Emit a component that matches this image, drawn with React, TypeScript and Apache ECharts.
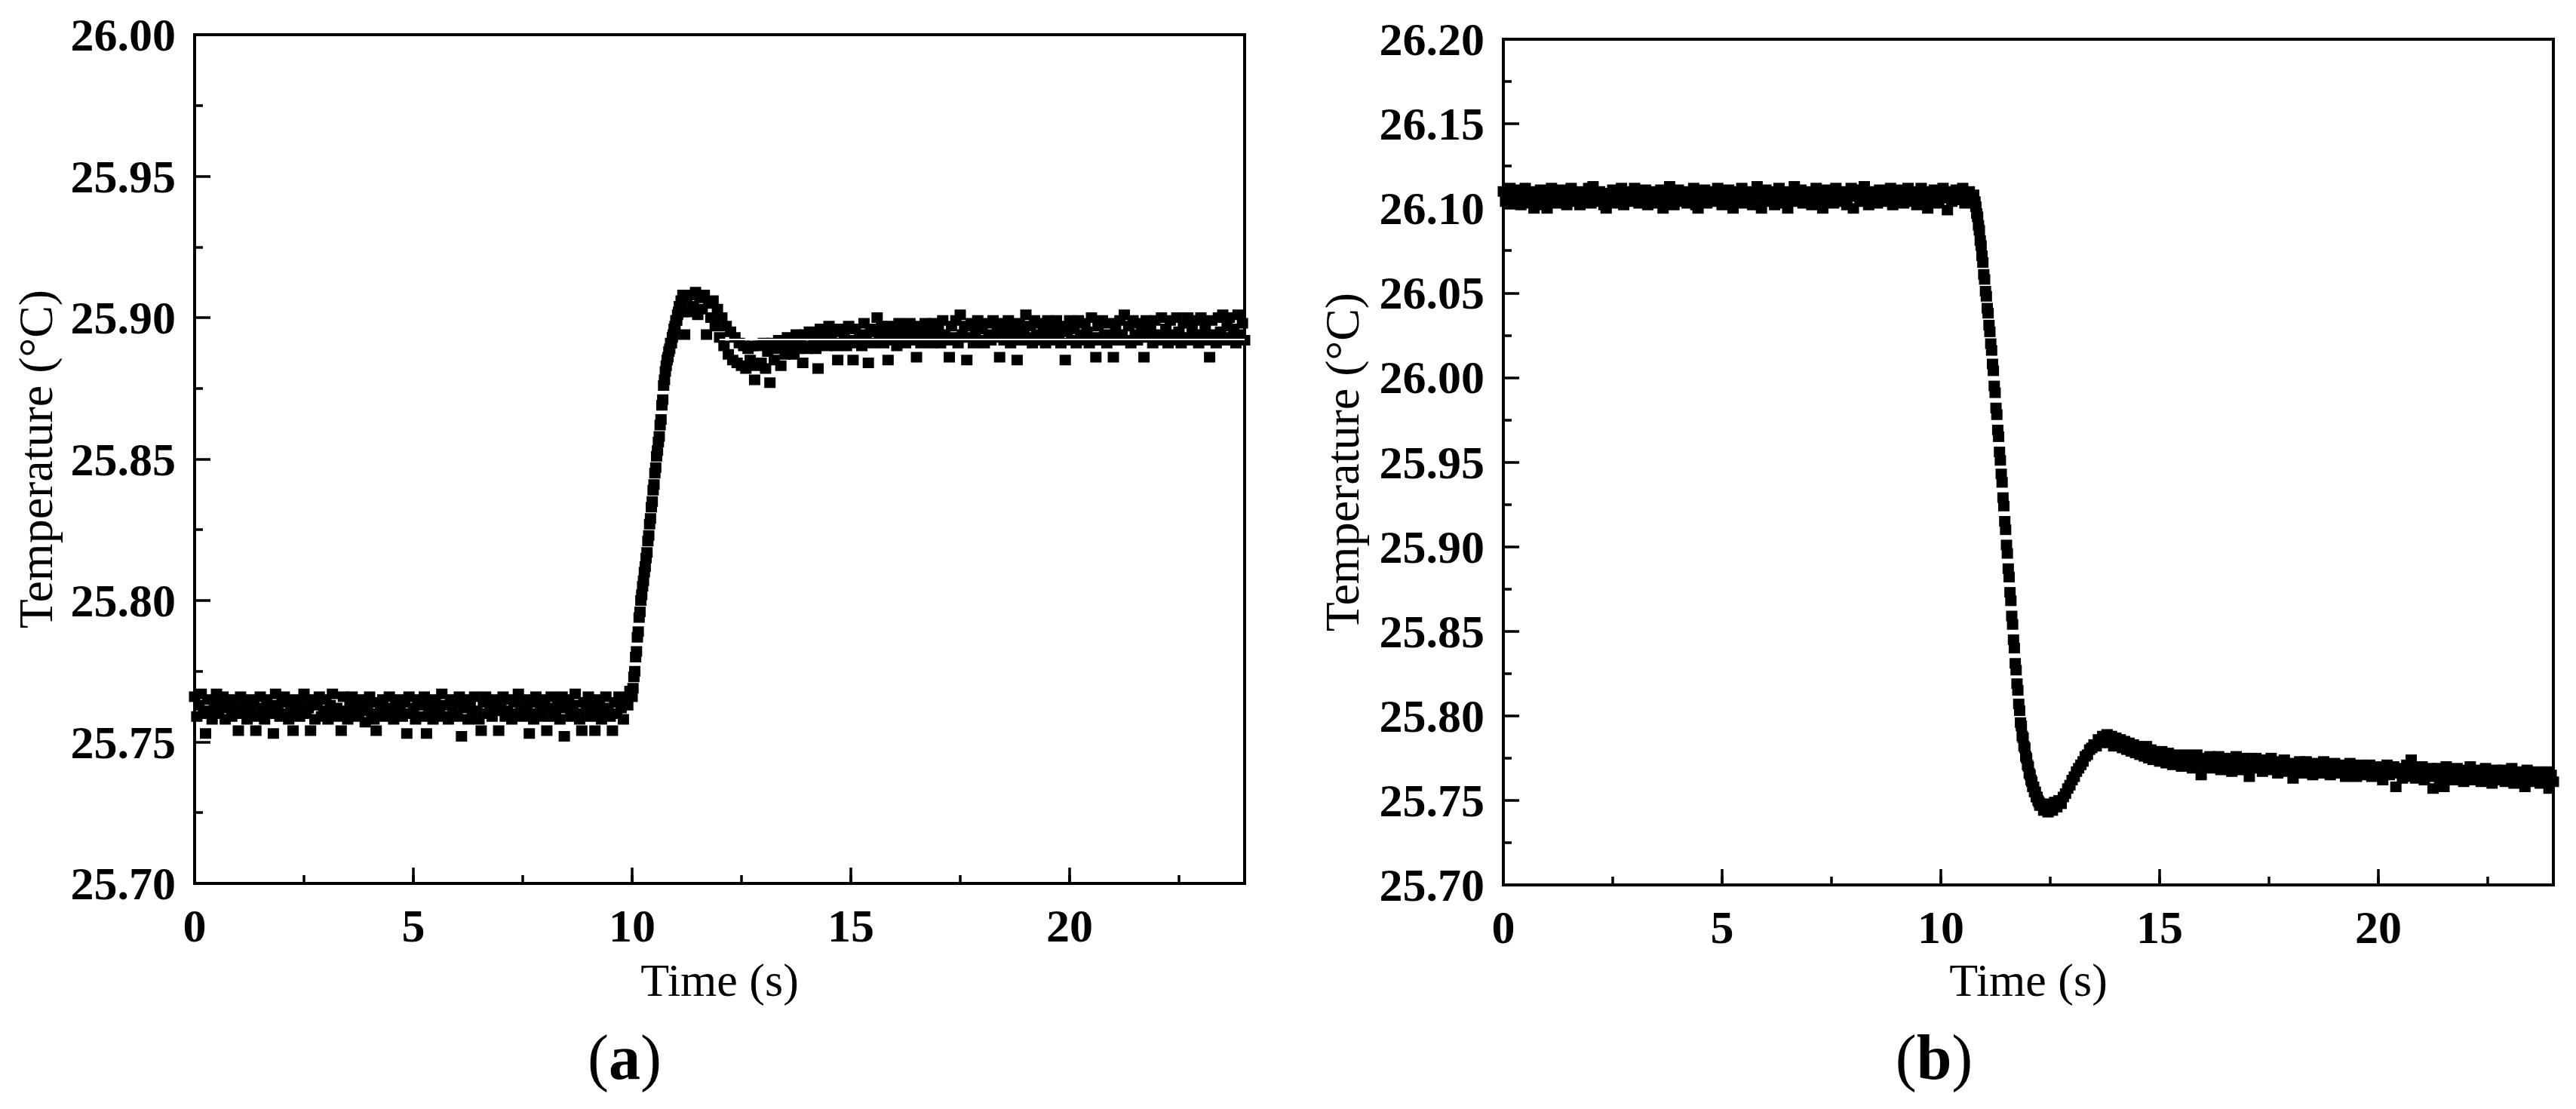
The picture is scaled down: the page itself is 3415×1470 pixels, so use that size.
import React, { useEffect, useRef } from "react";
import * as echarts from "echarts";

// ---------------- axes ----------------
const TIME_MIN = 0;
const TIME_MAX = 24;
const TIME_MAJOR_STEP = 5;
const TIME_MINOR_STEP = 2.5;
const TEMP_STEP = 0.05;
const A_TEMP_MIN = 25.7;
const A_TEMP_MAX = 26.0;
const B_TEMP_MIN = 25.7;
const B_TEMP_MAX = 26.2;

const X_TITLE = "Time (s)";
const Y_TITLE = "Temperature (°C)";
const CAPTIONS = ["a", "b"];

// ---------------- panel (a) : step up ----------------
// samples before the step (t = 0 .. 9.95 s, every 0.05 s)
const A_BEFORE_START = 0;
const A_BEFORE_STEP = 0.05;
const A_BEFORE_TEMPS = [
  25.766, 25.759, 25.763, 25.767, 25.760, 25.753, 25.765, 25.761, 25.758, 25.764,
  25.767, 25.760, 25.763, 25.766, 25.758, 25.762, 25.765, 25.759, 25.764, 25.761,
  25.754, 25.766, 25.760, 25.763, 25.758, 25.765, 25.761, 25.764, 25.754, 25.759,
  25.766, 25.762, 25.758, 25.765, 25.760, 25.763, 25.753, 25.767, 25.761, 25.759,
  25.764, 25.766, 25.760, 25.758, 25.763, 25.754, 25.765, 25.761, 25.759, 25.764,
  25.767, 25.760, 25.762, 25.754, 25.765, 25.758, 25.763, 25.766, 25.759, 25.761,
  25.765, 25.758, 25.763, 25.767, 25.760, 25.762, 25.759, 25.754, 25.766, 25.761,
  25.758, 25.764, 25.766, 25.760, 25.762, 25.759, 25.765, 25.761, 25.757, 25.763,
  25.766, 25.760, 25.758, 25.754, 25.764, 25.761, 25.765, 25.759, 25.762, 25.766,
  25.760, 25.758, 25.763, 25.765, 25.761, 25.759, 25.764, 25.753, 25.766, 25.760,
  25.762, 25.758, 25.765, 25.763, 25.759, 25.766, 25.753, 25.761, 25.764, 25.758,
  25.765, 25.760, 25.762, 25.767, 25.759, 25.763, 25.758, 25.765, 25.761, 25.764,
  25.759, 25.766, 25.752, 25.762, 25.765, 25.758, 25.763, 25.760, 25.766, 25.761,
  25.758, 25.754, 25.764, 25.766, 25.760, 25.762, 25.759, 25.765, 25.761, 25.754,
  25.763, 25.766, 25.759, 25.761, 25.765, 25.758, 25.764, 25.760, 25.767, 25.762,
  25.759, 25.765, 25.761, 25.753, 25.764, 25.758, 25.766, 25.760, 25.763, 25.759,
  25.765, 25.754, 25.762, 25.766, 25.759, 25.761, 25.764, 25.758, 25.766, 25.752,
  25.762, 25.765, 25.759, 25.763, 25.767, 25.760, 25.758, 25.754, 25.764, 25.761,
  25.766, 25.759, 25.763, 25.754, 25.760, 25.765, 25.758, 25.762, 25.766, 25.761,
  25.759, 25.754, 25.764, 25.760, 25.766, 25.762, 25.758, 25.765, 25.763, 25.768,
];
// samples during the rise (t = 10.00 .. 11.18 s, every 0.02 s)
const A_RISE_START = 10.0;
const A_RISE_STEP = 0.02;
const A_RISE_TEMPS = [
  25.766, 25.769, 25.773, 25.775, 25.780, 25.782, 25.787, 25.789, 25.794, 25.796,
  25.800, 25.802, 25.805, 25.807, 25.810, 25.812, 25.815, 25.817, 25.821, 25.823,
  25.827, 25.829, 25.833, 25.835, 25.839, 25.841, 25.845, 25.847, 25.851, 25.853,
  25.856, 25.858, 25.862, 25.864, 25.869, 25.871, 25.876, 25.878, 25.881, 25.883,
  25.885, 25.886, 25.888, 25.889, 25.891, 25.891, 25.893, 25.894, 25.896, 25.897,
  25.899, 25.899, 25.901, 25.902, 25.904, 25.903, 25.906, 25.905, 25.908, 25.902,
];
// samples after the rise (t = 11.20 .. 24.00 s, every 0.05 s)
const A_AFTER_START = 11.2;
const A_AFTER_STEP = 0.05;
const A_AFTER_TEMPS = [
  25.894, 25.906, 25.902, 25.908, 25.904, 25.909, 25.901, 25.907, 25.903, 25.908,
  25.894, 25.905, 25.900, 25.906, 25.897, 25.903, 25.893, 25.900, 25.890, 25.897,
  25.887, 25.895, 25.885, 25.893, 25.884, 25.891, 25.883, 25.890, 25.882, 25.889,
  25.885, 25.890, 25.878, 25.883, 25.890, 25.884, 25.891, 25.882, 25.888, 25.877,
  25.891, 25.885, 25.889, 25.892, 25.883, 25.890, 25.887, 25.893, 25.888, 25.891,
  25.887, 25.894, 25.889, 25.892, 25.884, 25.894, 25.889, 25.895, 25.890, 25.893,
  25.889, 25.882, 25.896, 25.891, 25.894, 25.890, 25.897, 25.892, 25.895, 25.890,
  25.885, 25.896, 25.891, 25.894, 25.890, 25.897, 25.892, 25.885, 25.896, 25.891,
  25.894, 25.890, 25.898, 25.893, 25.884, 25.896, 25.891, 25.895, 25.900, 25.892,
  25.897, 25.891, 25.894, 25.885, 25.897, 25.892, 25.895, 25.890, 25.898, 25.893,
  25.896, 25.891, 25.894, 25.898, 25.892, 25.895, 25.886, 25.897, 25.891, 25.894,
  25.898, 25.892, 25.895, 25.891, 25.898, 25.893, 25.896, 25.891, 25.899, 25.894,
  25.892, 25.886, 25.897, 25.893, 25.899, 25.891, 25.901, 25.894, 25.897, 25.885,
  25.893, 25.898, 25.891, 25.895, 25.899, 25.892, 25.896, 25.891, 25.898, 25.894,
  25.892, 25.899, 25.893, 25.896, 25.886, 25.898, 25.892, 25.895, 25.899, 25.891,
  25.896, 25.893, 25.885, 25.898, 25.892, 25.895, 25.901, 25.893, 25.897, 25.891,
  25.899, 25.894, 25.892, 25.898, 25.895, 25.891, 25.899, 25.893, 25.896, 25.892,
  25.899, 25.894, 25.891, 25.897, 25.885, 25.895, 25.899, 25.892, 25.896, 25.891,
  25.899, 25.894, 25.892, 25.898, 25.895, 25.891, 25.900, 25.893, 25.886, 25.897,
  25.892, 25.899, 25.894, 25.891, 25.898, 25.893, 25.886, 25.896, 25.892, 25.899,
  25.894, 25.901, 25.892, 25.897, 25.891, 25.899, 25.894, 25.892, 25.898, 25.895,
  25.886, 25.899, 25.893, 25.896, 25.891, 25.899, 25.894, 25.892, 25.900, 25.893,
  25.896, 25.891, 25.899, 25.894, 25.892, 25.900, 25.895, 25.891, 25.898, 25.893,
  25.900, 25.892, 25.896, 25.899, 25.893, 25.891, 25.900, 25.894, 25.897, 25.892,
  25.886, 25.899, 25.894, 25.891, 25.900, 25.895, 25.901, 25.892, 25.897, 25.900,
  25.893, 25.896, 25.891, 25.901, 25.894, 25.898, 25.892,
];
// thin white level line drawn over the settled band
const A_LEVEL_TIMES = [12.0, 24.0];
const A_LEVEL_TEMP = 25.8923;

// ---------------- panel (b) : step down ----------------
const B_BEFORE_START = 0;
const B_BEFORE_STEP = 0.05;
const B_BEFORE_TEMPS = [
  26.110, 26.104, 26.108, 26.112, 26.103, 26.107, 26.111, 26.105, 26.102, 26.109,
  26.112, 26.106, 26.103, 26.110, 26.100, 26.108, 26.104, 26.111, 26.106, 26.102,
  26.100, 26.109, 26.112, 26.105, 26.108, 26.103, 26.111, 26.106, 26.109, 26.102,
  26.107, 26.112, 26.104, 26.109, 26.106, 26.102, 26.110, 26.105, 26.108, 26.112,
  26.103, 26.113, 26.107, 26.104, 26.110, 26.106, 26.102, 26.100, 26.109, 26.105,
  26.111, 26.103, 26.108, 26.106, 26.112, 26.102, 26.107, 26.110, 26.104, 26.108,
  26.112, 26.105, 26.103, 26.109, 26.106, 26.111, 26.102, 26.108, 26.104, 26.110,
  26.107, 26.103, 26.111, 26.100, 26.108, 26.105, 26.113, 26.106, 26.102, 26.109,
  26.111, 26.104, 26.107, 26.110, 26.103, 26.108, 26.106, 26.112, 26.102, 26.100,
  26.109, 26.105, 26.111, 26.103, 26.107, 26.110, 26.104, 26.108, 26.112, 26.106,
  26.102, 26.109, 26.105, 26.111, 26.107, 26.100, 26.110, 26.104, 26.108, 26.112,
  26.103, 26.107, 26.110, 26.105, 26.102, 26.109, 26.113, 26.106, 26.100, 26.108,
  26.111, 26.104, 26.107, 26.110, 26.102, 26.106, 26.112, 26.103, 26.109, 26.105,
  26.100, 26.110, 26.106, 26.113, 26.104, 26.108, 26.111, 26.103, 26.107, 26.110,
  26.105, 26.102, 26.109, 26.112, 26.106, 26.104, 26.100, 26.108, 26.111, 26.105,
  26.109, 26.103, 26.112, 26.107, 26.104, 26.110, 26.106, 26.102, 26.109, 26.112,
  26.100, 26.107, 26.111, 26.104, 26.108, 26.113, 26.105, 26.102, 26.110, 26.106,
  26.109, 26.103, 26.111, 26.107, 26.104, 26.110, 26.106, 26.112, 26.102, 26.108,
  26.111, 26.105, 26.109, 26.103, 26.107, 26.112, 26.104, 26.110, 26.106, 26.102,
  26.109, 26.112, 26.105, 26.108, 26.100, 26.110, 26.104, 26.111, 26.107, 26.103,
  26.109, 26.112, 26.106, 26.099, 26.110, 26.104, 26.108, 26.111, 26.105, 26.109,
  26.112, 26.103, 26.107, 26.110, 26.105, 26.108,
];
// samples during the drop (t = 10.78 .. 12.28 s, every 0.02 s)
const B_DROP_START = 10.78;
const B_DROP_STEP = 0.02;
const B_DROP_TEMPS = [
  26.104, 26.101, 26.097, 26.095, 26.090, 26.087, 26.081, 26.078, 26.072, 26.068,
  26.061, 26.058, 26.051, 26.048, 26.041, 26.038, 26.031, 26.027, 26.020, 26.016,
  26.008, 26.004, 25.995, 25.991, 25.982, 25.978, 25.969, 25.965, 25.956, 25.951,
  25.943, 25.938, 25.929, 25.924, 25.915, 25.910, 25.901, 25.896, 25.887, 25.882,
  25.873, 25.868, 25.859, 25.854, 25.845, 25.840, 25.831, 25.827, 25.819, 25.815,
  25.807, 25.803, 25.796, 25.794, 25.788, 25.787, 25.782, 25.781, 25.776, 25.775,
  25.771, 25.770, 25.766, 25.765, 25.762, 25.761, 25.758, 25.758, 25.755, 25.755,
  25.752, 25.752, 25.750, 25.749, 25.747, 25.748,
];
// samples after the drop (t = 12.30 .. 24.00 s, every 0.05 s)
const B_AFTER_START = 12.3;
const B_AFTER_STEP = 0.05;
const B_AFTER_TEMPS = [
  25.747, 25.744, 25.748, 25.743, 25.747, 25.744, 25.749, 25.746, 25.750, 25.748,
  25.752, 25.754, 25.757, 25.759, 25.762, 25.764, 25.767, 25.769, 25.771, 25.773,
  25.776, 25.777, 25.780, 25.781, 25.783, 25.782, 25.786, 25.784, 25.788, 25.785,
  25.789, 25.784, 25.788, 25.782, 25.787, 25.783, 25.786, 25.781, 25.785, 25.780,
  25.784, 25.779, 25.783, 25.778, 25.782, 25.777, 25.781, 25.776, 25.782, 25.775,
  25.780, 25.774, 25.779, 25.776, 25.773, 25.779, 25.775, 25.772, 25.778, 25.774,
  25.771, 25.777, 25.773, 25.776, 25.770, 25.774, 25.777, 25.771, 25.775, 25.769,
  25.774, 25.777, 25.771, 25.765, 25.775, 25.770, 25.773, 25.776, 25.769, 25.774,
  25.771, 25.776, 25.768, 25.773, 25.775, 25.770, 25.774, 25.767, 25.772, 25.776,
  25.770, 25.773, 25.768, 25.775, 25.771, 25.764, 25.773, 25.769, 25.775, 25.770,
  25.772, 25.767, 25.774, 25.769, 25.771, 25.775, 25.768, 25.772, 25.766, 25.773,
  25.770, 25.774, 25.767, 25.771, 25.768, 25.763, 25.772, 25.769, 25.773, 25.766,
  25.770, 25.773, 25.767, 25.771, 25.765, 25.772, 25.768, 25.770, 25.766, 25.773,
  25.768, 25.771, 25.765, 25.769, 25.772, 25.766, 25.770, 25.767, 25.771, 25.764,
  25.769, 25.772, 25.766, 25.770, 25.764, 25.768, 25.771, 25.765, 25.769, 25.767,
  25.771, 25.764, 25.768, 25.770, 25.765, 25.769, 25.762, 25.767, 25.771, 25.765,
  25.768, 25.770, 25.758, 25.766, 25.769, 25.763, 25.768, 25.771, 25.764, 25.774,
  25.767, 25.763, 25.769, 25.765, 25.770, 25.762, 25.767, 25.764, 25.769, 25.757,
  25.766, 25.769, 25.763, 25.767, 25.758, 25.770, 25.764, 25.768, 25.762, 25.766,
  25.769, 25.763, 25.767, 25.761, 25.768, 25.765, 25.770, 25.762, 25.766, 25.764,
  25.768, 25.761, 25.765, 25.769, 25.763, 25.767, 25.760, 25.766, 25.768, 25.762,
  25.765, 25.768, 25.761, 25.766, 25.763, 25.769, 25.760, 25.764, 25.767, 25.762,
  25.765, 25.758, 25.768, 25.763, 25.766, 25.761, 25.767, 25.764, 25.760, 25.766,
  25.763, 25.767, 25.757, 25.765, 25.761,
];

// ---------------- helpers ----------------
function samples(start: number, step: number, temps: number[]) {
  return temps.map((v, i) => [Math.round((start + i * step) * 1000) / 1000, v]);
}

const A_POINTS = [
  ...samples(A_BEFORE_START, A_BEFORE_STEP, A_BEFORE_TEMPS),
  ...samples(A_RISE_START, A_RISE_STEP, A_RISE_TEMPS),
  ...samples(A_AFTER_START, A_AFTER_STEP, A_AFTER_TEMPS),
];
const B_POINTS = [
  ...samples(B_BEFORE_START, B_BEFORE_STEP, B_BEFORE_TEMPS),
  ...samples(B_DROP_START, B_DROP_STEP, B_DROP_TEMPS),
  ...samples(B_AFTER_START, B_AFTER_STEP, B_AFTER_TEMPS),
];

const FONT = '"Liberation Serif", "Times New Roman", Times, serif';
const BLACK = "#000";

const tickLabel = {
  fontFamily: FONT,
  fontWeight: "bold" as const,
  fontSize: 62,
  color: BLACK,
};
const xTitleText = { fontFamily: FONT, fontSize: 62, color: BLACK };
const yTitleText = { fontFamily: FONT, fontSize: 64, color: BLACK };

function timeAxes(gridIndex: number, nameGap: number) {
  return [
    {
      type: "value",
      gridIndex,
      position: "bottom",
      min: TIME_MIN,
      max: TIME_MAX,
      interval: TIME_MAJOR_STEP,
      axisLine: { show: true, onZero: false, lineStyle: { color: BLACK, width: 4 } },
      axisTick: { show: true, inside: true, length: 21, lineStyle: { color: BLACK, width: 3.5 } },
      splitLine: { show: false },
      axisLabel: {
        ...tickLabel,
        margin: 25,
        showMaxLabel: false,
        formatter: (v: number) => String(v),
      },
      name: X_TITLE,
      nameLocation: "middle",
      nameGap,
      nameTextStyle: xTitleText,
    },
    {
      type: "value",
      gridIndex,
      position: "bottom",
      min: TIME_MIN,
      max: TIME_MAX,
      interval: TIME_MINOR_STEP,
      axisLine: { show: false },
      axisTick: { show: true, inside: true, length: 11, lineStyle: { color: BLACK, width: 3.5 } },
      splitLine: { show: false },
      axisLabel: { show: false },
    },
  ];
}

function tempAxis(gridIndex: number, min: number, max: number, nameGap: number) {
  return {
    type: "value",
    gridIndex,
    min,
    max,
    interval: TEMP_STEP,
    axisLine: { show: true, onZero: false, lineStyle: { color: BLACK, width: 4 } },
    axisTick: { show: true, inside: true, length: 21, lineStyle: { color: BLACK, width: 3.5 } },
    minorTick: { show: true, splitNumber: 2, length: 11, lineStyle: { color: BLACK, width: 3.5 } },
    splitLine: { show: false },
    minorSplitLine: { show: false },
    axisLabel: {
      ...tickLabel,
      margin: 25,
      formatter: (v: number) => v.toFixed(2),
    },
    name: Y_TITLE,
    nameLocation: "middle",
    nameGap,
    nameTextStyle: yTitleText,
  };
}

function scatter(xAxisIndex: number, yAxisIndex: number, data: number[][]) {
  return {
    type: "scatter",
    xAxisIndex,
    yAxisIndex,
    data,
    symbol: "rect",
    symbolSize: [15, 14],
    itemStyle: { color: BLACK, opacity: 1 },
    silent: true,
    clip: true,
    emphasis: { disabled: true },
    z: 2,
  };
}

function caption(letter: string, x: number, y: number) {
  return {
    type: "text",
    x,
    y,
    style: {
      text: `{p|(}{l|${letter}}{p|)}`,
      align: "center",
      verticalAlign: "middle",
      fill: BLACK,
      rich: {
        p: { fontFamily: FONT, fontSize: 84, fill: BLACK },
        l: { fontFamily: FONT, fontSize: 84, fontWeight: "bold", fill: BLACK },
      },
    },
  };
}

const option = {
  animation: false,
  backgroundColor: "#fff",
  grid: [
    { left: 258, top: 46, width: 1392, height: 1125, show: true, borderColor: BLACK, borderWidth: 4 },
    { left: 1993, top: 52, width: 1392, height: 1121, show: true, borderColor: BLACK, borderWidth: 4 },
  ],
  xAxis: [...timeAxes(0, 97), ...timeAxes(1, 95)],
  yAxis: [tempAxis(0, A_TEMP_MIN, A_TEMP_MAX, 179), tempAxis(1, B_TEMP_MIN, B_TEMP_MAX, 182)],
  series: [
    scatter(0, 0, A_POINTS),
    {
      type: "line",
      xAxisIndex: 0,
      yAxisIndex: 0,
      data: A_LEVEL_TIMES.map((t) => [t, A_LEVEL_TEMP]),
      symbol: "none",
      silent: true,
      lineStyle: { color: "#fff", width: 2 },
      z: 3,
    },
    scatter(2, 1, B_POINTS),
  ],
  graphic: [caption(CAPTIONS[0], 828, 1401), caption(CAPTIONS[1], 2564, 1401)],
};

export default function App() {
  const ref = useRef<HTMLDivElement>(null);
  useEffect(() => {
    const chart = echarts.init(ref.current as HTMLDivElement, null, { renderer: "svg" });
    chart.setOption(option as any);
    return () => chart.dispose();
  }, []);
  return (
    <div
      ref={ref}
      style={{ position: "absolute", left: 0, top: 0, width: 3415, height: 1470, background: "#fff" }}
    />
  );
}
